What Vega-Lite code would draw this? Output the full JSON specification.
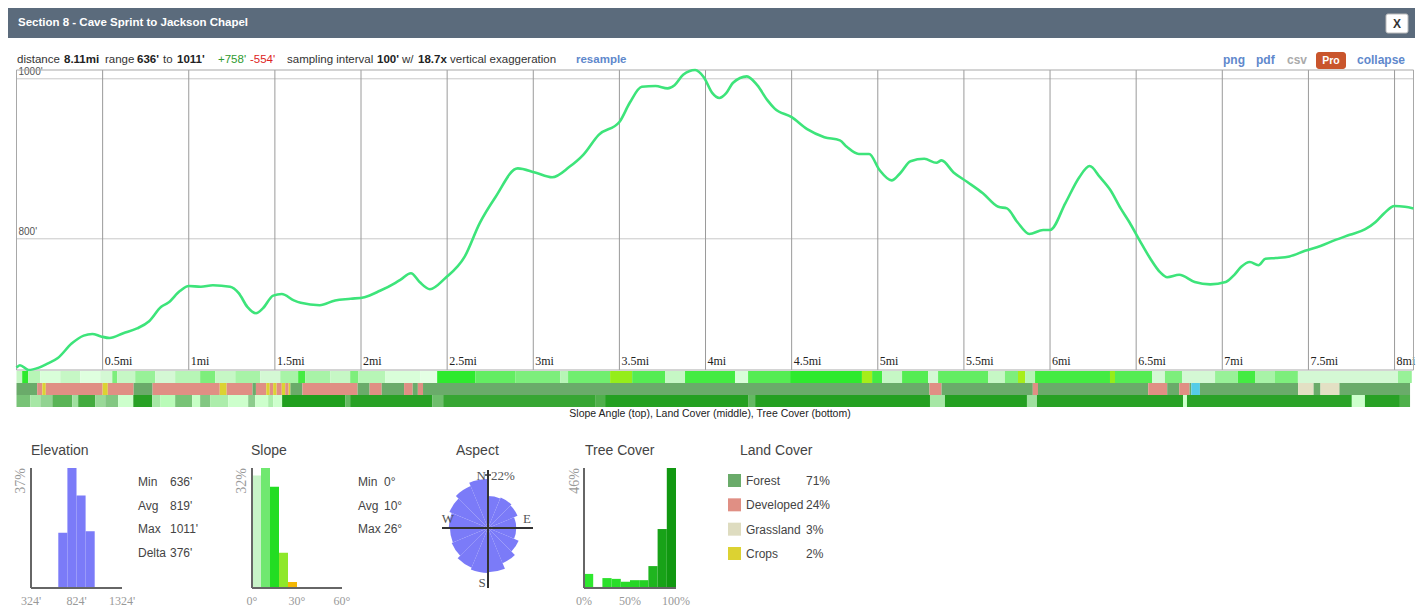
{
"$schema": "https://vega.github.io/schema/vega-lite/v6.json",
"width": 1423, "height": 609, "autosize": {"type": "none"}, "padding": 0, "background": "#ffffff",
"config": {"view": {"stroke": null}},
"resolve": {"scale": {"x": "independent", "y": "independent", "color": "independent", "radius": "independent", "theta": "independent"}},
"layer": [
{"data": {"values": [{}]}, "mark": {"type": "rect", "color": "#5b6b7c"}, "encoding": {"x": {"value": 8}, "x2": {"value": 1415}, "y": {"value": 8}, "y2": {"value": 38}}},
{"data": {"values": [{"t": "Section 8 - Cave Sprint to Jackson Chapel"}]}, "mark": {"type": "text", "align": "left", "baseline": "middle", "font": "Liberation Sans, Arial, sans-serif", "fontSize": 11.5, "fontWeight": "bold", "color": "#ffffff"}, "encoding": {"x": {"value": 18}, "y": {"value": 23}, "text": {"field": "t"}}},
{"data": {"values": [{}]}, "mark": {"type": "rect", "fill": "#ffffff", "stroke": "#bbbbbb", "strokeWidth": 1, "cornerRadius": 2}, "encoding": {"x": {"value": 1386}, "x2": {"value": 1408}, "y": {"value": 14}, "y2": {"value": 33}}},
{"data": {"values": [{"t": "X"}]}, "mark": {"type": "text", "align": "center", "baseline": "middle", "font": "Liberation Sans, Arial, sans-serif", "fontSize": 12, "fontWeight": "bold", "color": "#333333"}, "encoding": {"x": {"value": 1397}, "y": {"value": 24}, "text": {"field": "t"}}},

{"data": {"values": [{"t": "distance"}]}, "mark": {"type": "text", "align": "left", "baseline": "middle", "font": "Liberation Sans, Arial, sans-serif", "fontSize": 11.5, "color": "#333333"}, "encoding": {"x": {"value": 17}, "y": {"value": 60}, "text": {"field": "t"}}},
{"data": {"values": [{"t": "8.11mi"}]}, "mark": {"type": "text", "align": "left", "baseline": "middle", "font": "Liberation Sans, Arial, sans-serif", "fontSize": 11.5, "fontWeight": "bold", "color": "#222222"}, "encoding": {"x": {"value": 64}, "y": {"value": 60}, "text": {"field": "t"}}},
{"data": {"values": [{"t": "range"}]}, "mark": {"type": "text", "align": "left", "baseline": "middle", "font": "Liberation Sans, Arial, sans-serif", "fontSize": 11.5, "color": "#333333"}, "encoding": {"x": {"value": 105}, "y": {"value": 60}, "text": {"field": "t"}}},
{"data": {"values": [{"t": "636'"}]}, "mark": {"type": "text", "align": "left", "baseline": "middle", "font": "Liberation Sans, Arial, sans-serif", "fontSize": 11.5, "fontWeight": "bold", "color": "#222222"}, "encoding": {"x": {"value": 137}, "y": {"value": 60}, "text": {"field": "t"}}},
{"data": {"values": [{"t": "to"}]}, "mark": {"type": "text", "align": "left", "baseline": "middle", "font": "Liberation Sans, Arial, sans-serif", "fontSize": 11.5, "color": "#333333"}, "encoding": {"x": {"value": 163}, "y": {"value": 60}, "text": {"field": "t"}}},
{"data": {"values": [{"t": "1011'"}]}, "mark": {"type": "text", "align": "left", "baseline": "middle", "font": "Liberation Sans, Arial, sans-serif", "fontSize": 11.5, "fontWeight": "bold", "color": "#222222"}, "encoding": {"x": {"value": 177}, "y": {"value": 60}, "text": {"field": "t"}}},
{"data": {"values": [{"t": "+758'"}]}, "mark": {"type": "text", "align": "left", "baseline": "middle", "font": "Liberation Sans, Arial, sans-serif", "fontSize": 11.5, "color": "#2f9a2f"}, "encoding": {"x": {"value": 218}, "y": {"value": 60}, "text": {"field": "t"}}},
{"data": {"values": [{"t": "-554'"}]}, "mark": {"type": "text", "align": "left", "baseline": "middle", "font": "Liberation Sans, Arial, sans-serif", "fontSize": 11.5, "color": "#dd2222"}, "encoding": {"x": {"value": 250}, "y": {"value": 60}, "text": {"field": "t"}}},
{"data": {"values": [{"t": "sampling interval"}]}, "mark": {"type": "text", "align": "left", "baseline": "middle", "font": "Liberation Sans, Arial, sans-serif", "fontSize": 11.5, "color": "#333333"}, "encoding": {"x": {"value": 287}, "y": {"value": 60}, "text": {"field": "t"}}},
{"data": {"values": [{"t": "100'"}]}, "mark": {"type": "text", "align": "left", "baseline": "middle", "font": "Liberation Sans, Arial, sans-serif", "fontSize": 11.5, "fontWeight": "bold", "color": "#222222"}, "encoding": {"x": {"value": 377}, "y": {"value": 60}, "text": {"field": "t"}}},
{"data": {"values": [{"t": "w/"}]}, "mark": {"type": "text", "align": "left", "baseline": "middle", "font": "Liberation Sans, Arial, sans-serif", "fontSize": 11.5, "color": "#333333"}, "encoding": {"x": {"value": 402}, "y": {"value": 60}, "text": {"field": "t"}}},
{"data": {"values": [{"t": "18.7x"}]}, "mark": {"type": "text", "align": "left", "baseline": "middle", "font": "Liberation Sans, Arial, sans-serif", "fontSize": 11.5, "fontWeight": "bold", "color": "#222222"}, "encoding": {"x": {"value": 418}, "y": {"value": 60}, "text": {"field": "t"}}},
{"data": {"values": [{"t": "vertical exaggeration"}]}, "mark": {"type": "text", "align": "left", "baseline": "middle", "font": "Liberation Sans, Arial, sans-serif", "fontSize": 11.5, "color": "#333333"}, "encoding": {"x": {"value": 450}, "y": {"value": 60}, "text": {"field": "t"}}},
{"data": {"values": [{"t": "resample"}]}, "mark": {"type": "text", "align": "left", "baseline": "middle", "font": "Liberation Sans, Arial, sans-serif", "fontSize": 11.5, "fontWeight": "bold", "color": "#6088cc"}, "encoding": {"x": {"value": 576}, "y": {"value": 60}, "text": {"field": "t"}}},
{"data": {"values": [{"t": "png"}]}, "mark": {"type": "text", "align": "left", "baseline": "middle", "font": "Liberation Sans, Arial, sans-serif", "fontSize": 12, "fontWeight": "bold", "color": "#6088cc"}, "encoding": {"x": {"value": 1223}, "y": {"value": 60}, "text": {"field": "t"}}},
{"data": {"values": [{"t": "pdf"}]}, "mark": {"type": "text", "align": "left", "baseline": "middle", "font": "Liberation Sans, Arial, sans-serif", "fontSize": 12, "fontWeight": "bold", "color": "#6088cc"}, "encoding": {"x": {"value": 1256}, "y": {"value": 60}, "text": {"field": "t"}}},
{"data": {"values": [{"t": "csv"}]}, "mark": {"type": "text", "align": "left", "baseline": "middle", "font": "Liberation Sans, Arial, sans-serif", "fontSize": 12, "fontWeight": "bold", "color": "#aaaaaa"}, "encoding": {"x": {"value": 1287}, "y": {"value": 60}, "text": {"field": "t"}}},
{"data": {"values": [{}]}, "mark": {"type": "rect", "color": "#c9552c", "cornerRadius": 3}, "encoding": {"x": {"value": 1316}, "x2": {"value": 1346}, "y": {"value": 52}, "y2": {"value": 69}}},
{"data": {"values": [{"t": "Pro"}]}, "mark": {"type": "text", "align": "center", "baseline": "middle", "font": "Liberation Sans, Arial, sans-serif", "fontSize": 10.5, "fontWeight": "bold", "color": "#ffffff"}, "encoding": {"x": {"value": 1331}, "y": {"value": 60.5}, "text": {"field": "t"}}},
{"data": {"values": [{"t": "collapse"}]}, "mark": {"type": "text", "align": "left", "baseline": "middle", "font": "Liberation Sans, Arial, sans-serif", "fontSize": 12, "fontWeight": "bold", "color": "#6088cc"}, "encoding": {"x": {"value": 1357}, "y": {"value": 60}, "text": {"field": "t"}}},

{"data": {"values": [{"ft": 800, "l": "800'"}, {"ft": 1000, "l": "1000'"}]}, "mark": {"type": "rule", "color": "#c8c8c8", "strokeWidth": 1},
 "encoding": {"x": {"datum": 0, "type": "quantitative", "scale": {"domain": [0, 8.11], "range": [16.5, 1413.5], "nice": false, "zero": false}, "axis": null}, "x2": {"datum": 8.11},
  "y": {"field": "ft", "type": "quantitative", "scale": {"domain": [636, 1011], "range": [370, 70], "nice": false, "zero": false}, "axis": null}}},
{"data": {"values": [{"ft": 800, "l": "800'"}, {"ft": 1000, "l": "1000'"}]}, "mark": {"type": "text", "align": "left", "baseline": "bottom", "dx": 2, "dy": -2, "font": "Liberation Sans, Arial, sans-serif", "fontSize": 10, "color": "#555555"},
 "encoding": {"x": {"datum": 0, "type": "quantitative", "scale": {"domain": [0, 8.11], "range": [16.5, 1413.5], "nice": false, "zero": false}, "axis": null},
  "y": {"field": "ft", "type": "quantitative", "scale": {"domain": [636, 1011], "range": [370, 70], "nice": false, "zero": false}, "axis": null}, "text": {"field": "l"}}},
{"data": {"values": [{"mi": 0.5, "l": "0.5mi"}, {"mi": 1, "l": "1mi"}, {"mi": 1.5, "l": "1.5mi"}, {"mi": 2, "l": "2mi"}, {"mi": 2.5, "l": "2.5mi"}, {"mi": 3, "l": "3mi"}, {"mi": 3.5, "l": "3.5mi"}, {"mi": 4, "l": "4mi"}, {"mi": 4.5, "l": "4.5mi"}, {"mi": 5, "l": "5mi"}, {"mi": 5.5, "l": "5.5mi"}, {"mi": 6, "l": "6mi"}, {"mi": 6.5, "l": "6.5mi"}, {"mi": 7, "l": "7mi"}, {"mi": 7.5, "l": "7.5mi"}, {"mi": 8, "l": "8mi"}]},
 "mark": {"type": "rule", "color": "#9a9a9a", "strokeWidth": 1},
 "encoding": {"x": {"field": "mi", "type": "quantitative", "scale": {"domain": [0, 8.11], "range": [16.5, 1413.5], "nice": false, "zero": false}, "axis": null},
  "y": {"datum": 636, "type": "quantitative", "scale": {"domain": [636, 1011], "range": [370, 70], "nice": false, "zero": false}, "axis": null}, "y2": {"datum": 1011}}},
{"data": {"values": [{"mi": 0.5, "l": "0.5mi"}, {"mi": 1, "l": "1mi"}, {"mi": 1.5, "l": "1.5mi"}, {"mi": 2, "l": "2mi"}, {"mi": 2.5, "l": "2.5mi"}, {"mi": 3, "l": "3mi"}, {"mi": 3.5, "l": "3.5mi"}, {"mi": 4, "l": "4mi"}, {"mi": 4.5, "l": "4.5mi"}, {"mi": 5, "l": "5mi"}, {"mi": 5.5, "l": "5.5mi"}, {"mi": 6, "l": "6mi"}, {"mi": 6.5, "l": "6.5mi"}, {"mi": 7, "l": "7mi"}, {"mi": 7.5, "l": "7.5mi"}, {"mi": 8, "l": "8mi"}]},
 "mark": {"type": "text", "align": "left", "baseline": "middle", "dx": 2, "font": "Liberation Serif, Times New Roman, serif", "fontSize": 12, "color": "#222222"},
 "encoding": {"x": {"field": "mi", "type": "quantitative", "scale": {"domain": [0, 8.11], "range": [16.5, 1413.5], "nice": false, "zero": false}, "axis": null}, "y": {"value": 361}, "text": {"field": "l"}}},
{"data": {"values": [{}]}, "mark": {"type": "rect", "filled": false, "stroke": "#a8a8a8", "strokeWidth": 1},
 "encoding": {"x": {"datum": 0, "type": "quantitative", "scale": {"domain": [0, 8.11], "range": [16.5, 1413.5], "nice": false, "zero": false}, "axis": null}, "x2": {"datum": 8.11},
  "y": {"datum": 636, "type": "quantitative", "scale": {"domain": [636, 1011], "range": [370, 70], "nice": false, "zero": false}, "axis": null}, "y2": {"datum": 1011}}},
{"data": {"values": [{"mi":0,"ft":639},{"mi":0.02,"ft":642},{"mi":0.07,"ft":636},{"mi":0.13,"ft":639},{"mi":0.18,"ft":644},{"mi":0.24,"ft":651},{"mi":0.32,"ft":669},{"mi":0.39,"ft":679},{"mi":0.44,"ft":681},{"mi":0.49,"ft":678},{"mi":0.54,"ft":676},{"mi":0.62,"ft":682},{"mi":0.70,"ft":688},{"mi":0.77,"ft":697},{"mi":0.84,"ft":715},{"mi":0.88,"ft":720},{"mi":0.95,"ft":735},{"mi":1.00,"ft":741},{"mi":1.07,"ft":740},{"mi":1.14,"ft":742},{"mi":1.24,"ft":740},{"mi":1.29,"ft":732},{"mi":1.34,"ft":715},{"mi":1.39,"ft":707},{"mi":1.43,"ft":713},{"mi":1.49,"ft":729},{"mi":1.54,"ft":731},{"mi":1.61,"ft":723},{"mi":1.65,"ft":720},{"mi":1.76,"ft":717},{"mi":1.85,"ft":723},{"mi":1.94,"ft":725},{"mi":2.02,"ft":727},{"mi":2.11,"ft":735},{"mi":2.20,"ft":745},{"mi":2.23,"ft":749},{"mi":2.29,"ft":757},{"mi":2.34,"ft":746},{"mi":2.40,"ft":737},{"mi":2.49,"ft":751},{"mi":2.60,"ft":777},{"mi":2.69,"ft":820},{"mi":2.78,"ft":852},{"mi":2.91,"ft":888},{"mi":3.01,"ft":883},{"mi":3.11,"ft":877},{"mi":3.21,"ft":890},{"mi":3.29,"ft":905},{"mi":3.38,"ft":930},{"mi":3.50,"ft":946},{"mi":3.56,"ft":970},{"mi":3.63,"ft":990},{"mi":3.71,"ft":991},{"mi":3.78,"ft":988},{"mi":3.82,"ft":992},{"mi":3.87,"ft":1005},{"mi":3.94,"ft":1011},{"mi":3.99,"ft":1002},{"mi":4.04,"ft":982},{"mi":4.08,"ft":976},{"mi":4.12,"ft":982},{"mi":4.16,"ft":995},{"mi":4.24,"ft":1003},{"mi":4.30,"ft":992},{"mi":4.36,"ft":973},{"mi":4.40,"ft":963},{"mi":4.50,"ft":952},{"mi":4.59,"ft":937},{"mi":4.69,"ft":927},{"mi":4.78,"ft":923},{"mi":4.82,"ft":915},{"mi":4.89,"ft":906},{"mi":4.95,"ft":906},{"mi":5.01,"ft":886},{"mi":5.08,"ft":873},{"mi":5.13,"ft":882},{"mi":5.19,"ft":897},{"mi":5.27,"ft":900},{"mi":5.34,"ft":895},{"mi":5.37,"ft":898},{"mi":5.44,"ft":883},{"mi":5.52,"ft":871},{"mi":5.61,"ft":857},{"mi":5.70,"ft":840},{"mi":5.75,"ft":838},{"mi":5.81,"ft":821},{"mi":5.88,"ft":806},{"mi":5.96,"ft":811},{"mi":6.00,"ft":811},{"mi":6.09,"ft":845},{"mi":6.17,"ft":877},{"mi":6.23,"ft":891},{"mi":6.29,"ft":877},{"mi":6.35,"ft":861},{"mi":6.41,"ft":838},{"mi":6.46,"ft":821},{"mi":6.52,"ft":798},{"mi":6.58,"ft":776},{"mi":6.64,"ft":758},{"mi":6.68,"ft":752},{"mi":6.75,"ft":755},{"mi":6.84,"ft":746},{"mi":6.93,"ft":743},{"mi":7.02,"ft":746},{"mi":7.07,"ft":755},{"mi":7.11,"ft":765},{"mi":7.16,"ft":771},{"mi":7.21,"ft":767},{"mi":7.25,"ft":775},{"mi":7.31,"ft":776},{"mi":7.39,"ft":778},{"mi":7.48,"ft":785},{"mi":7.57,"ft":791},{"mi":7.65,"ft":798},{"mi":7.74,"ft":805},{"mi":7.83,"ft":812},{"mi":7.89,"ft":821},{"mi":7.94,"ft":832},{"mi":8.00,"ft":841},{"mi":8.06,"ft":840},{"mi":8.11,"ft":838}]},
 "mark": {"type": "line", "color": "#3de47a", "strokeWidth": 2.6, "interpolate": "monotone"},
 "encoding": {"x": {"field": "mi", "type": "quantitative", "scale": {"domain": [0, 8.11], "range": [16.5, 1413.5], "nice": false, "zero": false}, "axis": null},
  "y": {"field": "ft", "type": "quantitative", "scale": {"domain": [636, 1011], "range": [370, 70], "nice": false, "zero": false}, "axis": null}}},

{"data": {"values": [{"a":0,"b":0.033,"v":4},{"a":0.033,"b":0.068,"v":14},{"a":0.068,"b":0.138,"v":5},{"a":0.138,"b":0.254,"v":2},{"a":0.254,"b":0.37,"v":4},{"a":0.37,"b":0.486,"v":1},{"a":0.486,"b":0.556,"v":3},{"a":0.556,"b":0.585,"v":9},{"a":0.585,"b":0.689,"v":4},{"a":0.689,"b":0.805,"v":7},{"a":0.805,"b":0.921,"v":3},{"a":0.921,"b":1.066,"v":5},{"a":1.066,"b":1.154,"v":9},{"a":1.154,"b":1.27,"v":4},{"a":1.27,"b":1.415,"v":6},{"a":1.415,"b":1.531,"v":3},{"a":1.531,"b":1.635,"v":6},{"a":1.635,"b":1.676,"v":13},{"a":1.676,"b":1.821,"v":6},{"a":1.821,"b":1.937,"v":4},{"a":1.937,"b":1.983,"v":9},{"a":1.983,"b":2.14,"v":5},{"a":2.14,"b":2.343,"v":2},{"a":2.343,"b":2.442,"v":0},{"a":2.442,"b":2.663,"v":14},{"a":2.663,"b":2.895,"v":11},{"a":2.895,"b":3.156,"v":9},{"a":3.156,"b":3.202,"v":5},{"a":3.202,"b":3.446,"v":10},{"a":3.446,"b":3.574,"v":18},{"a":3.574,"b":3.765,"v":12},{"a":3.765,"b":3.881,"v":4},{"a":3.881,"b":4.171,"v":13},{"a":4.171,"b":4.247,"v":2},{"a":4.247,"b":4.491,"v":12},{"a":4.491,"b":4.908,"v":14},{"a":4.908,"b":4.967,"v":19},{"a":4.967,"b":5.025,"v":13},{"a":5.025,"b":5.141,"v":4},{"a":5.141,"b":5.292,"v":12},{"a":5.292,"b":5.35,"v":3},{"a":5.35,"b":5.64,"v":11},{"a":5.64,"b":5.738,"v":4},{"a":5.738,"b":5.814,"v":9},{"a":5.814,"b":5.855,"v":19},{"a":5.855,"b":5.913,"v":5},{"a":5.913,"b":6.348,"v":13},{"a":6.348,"b":6.377,"v":18},{"a":6.377,"b":6.592,"v":12},{"a":6.592,"b":6.667,"v":3},{"a":6.667,"b":6.766,"v":9},{"a":6.766,"b":6.958,"v":3},{"a":6.958,"b":7.091,"v":7},{"a":7.091,"b":7.19,"v":13},{"a":7.19,"b":7.306,"v":6},{"a":7.306,"b":7.439,"v":9},{"a":7.439,"b":8.02,"v":3},{"a":8.02,"b":8.1,"v":7}]},
 "mark": {"type": "rect"},
 "encoding": {"x": {"field": "a", "type": "quantitative", "scale": {"domain": [0, 8.11], "range": [16.5, 1413.5], "nice": false, "zero": false}, "axis": null}, "x2": {"field": "b"},
  "y": {"datum": 0, "type": "quantitative", "scale": {"domain": [0, 3], "range": [371, 407], "nice": false, "zero": false}, "axis": null}, "y2": {"datum": 1},
  "color": {"field": "v", "type": "quantitative", "scale": {"type": "linear", "domain": [0, 3, 8, 14, 19, 26], "range": ["#ffffff", "#d4f8d4", "#88ef88", "#2eea2e", "#a6ee1a", "#f0b400"]}, "legend": null}}},
{"data": {"values": [{"a":0,"b":0.12,"c":"Forest"},{"a":0.12,"b":0.15,"c":"Developed"},{"a":0.15,"b":0.17,"c":"Crops"},{"a":0.17,"b":0.50,"c":"Developed"},{"a":0.50,"b":0.53,"c":"Crops"},{"a":0.53,"b":0.68,"c":"Developed"},{"a":0.68,"b":0.79,"c":"Forest"},{"a":0.79,"b":1.18,"c":"Developed"},{"a":1.18,"b":1.22,"c":"Crops"},{"a":1.22,"b":1.37,"c":"Developed"},{"a":1.37,"b":1.39,"c":"Forest"},{"a":1.39,"b":1.45,"c":"Developed"},{"a":1.45,"b":1.47,"c":"Crops"},{"a":1.47,"b":1.49,"c":"Developed"},{"a":1.49,"b":1.51,"c":"Crops"},{"a":1.51,"b":1.54,"c":"Developed"},{"a":1.54,"b":1.56,"c":"Crops"},{"a":1.56,"b":1.58,"c":"Developed"},{"a":1.58,"b":1.59,"c":"Crops"},{"a":1.59,"b":1.66,"c":"Forest"},{"a":1.66,"b":1.98,"c":"Developed"},{"a":1.98,"b":2.05,"c":"Forest"},{"a":2.05,"b":2.12,"c":"Developed"},{"a":2.12,"b":2.25,"c":"Forest"},{"a":2.25,"b":2.30,"c":"Developed"},{"a":2.30,"b":2.33,"c":"Forest"},{"a":2.33,"b":2.36,"c":"Developed"},{"a":2.36,"b":5.30,"c":"Forest"},{"a":5.30,"b":5.37,"c":"Developed"},{"a":5.37,"b":5.90,"c":"Forest"},{"a":5.90,"b":5.93,"c":"Developed"},{"a":5.93,"b":6.57,"c":"Forest"},{"a":6.57,"b":6.68,"c":"Developed"},{"a":6.68,"b":6.75,"c":"Forest"},{"a":6.75,"b":6.81,"c":"Developed"},{"a":6.81,"b":6.82,"c":"Forest"},{"a":6.82,"b":6.87,"c":"Water"},{"a":6.87,"b":7.44,"c":"Forest"},{"a":7.44,"b":7.53,"c":"Grassland"},{"a":7.53,"b":7.57,"c":"Forest"},{"a":7.57,"b":7.68,"c":"Grassland"},{"a":7.68,"b":8.09,"c":"Forest"}]},
 "mark": {"type": "rect"},
 "encoding": {"x": {"field": "a", "type": "quantitative", "scale": {"domain": [0, 8.11], "range": [16.5, 1413.5], "nice": false, "zero": false}, "axis": null}, "x2": {"field": "b"},
  "y": {"datum": 1, "type": "quantitative", "scale": {"domain": [0, 3], "range": [371, 407], "nice": false, "zero": false}, "axis": null}, "y2": {"datum": 2},
  "color": {"field": "c", "type": "nominal", "scale": {"domain": ["Forest", "Developed", "Grassland", "Crops", "Water"], "range": ["#6aab6a", "#e08f84", "#e3e0c4", "#dcd232", "#55cce8"]}, "legend": null}}},
{"data": {"values": [{"a":0,"b":0.08,"v":60},{"a":0.08,"b":0.138,"v":30},{"a":0.138,"b":0.208,"v":45},{"a":0.208,"b":0.324,"v":75},{"a":0.324,"b":0.358,"v":35},{"a":0.358,"b":0.457,"v":85},{"a":0.457,"b":0.515,"v":40},{"a":0.515,"b":0.59,"v":55},{"a":0.59,"b":0.678,"v":0},{"a":0.678,"b":0.788,"v":95},{"a":0.788,"b":0.834,"v":30},{"a":0.834,"b":0.921,"v":15},{"a":0.921,"b":1.02,"v":60},{"a":1.02,"b":1.066,"v":5},{"a":1.066,"b":1.124,"v":55},{"a":1.124,"b":1.229,"v":25},{"a":1.229,"b":1.345,"v":0},{"a":1.345,"b":1.386,"v":50},{"a":1.386,"b":1.461,"v":0},{"a":1.461,"b":1.49,"v":25},{"a":1.49,"b":1.542,"v":0},{"a":1.542,"b":1.908,"v":97},{"a":1.908,"b":1.937,"v":70},{"a":1.937,"b":2.413,"v":95},{"a":2.413,"b":2.477,"v":65},{"a":2.477,"b":3.359,"v":90},{"a":3.359,"b":3.417,"v":80},{"a":3.417,"b":4.247,"v":96},{"a":4.247,"b":4.288,"v":70},{"a":4.288,"b":5.303,"v":96},{"a":5.303,"b":5.39,"v":30},{"a":5.39,"b":5.866,"v":96},{"a":5.866,"b":5.924,"v":35},{"a":5.924,"b":6.772,"v":95},{"a":6.772,"b":6.795,"v":0},{"a":6.795,"b":7.752,"v":94},{"a":7.752,"b":7.828,"v":0},{"a":7.828,"b":8.031,"v":95},{"a":8.031,"b":8.09,"v":80}]},
 "mark": {"type": "rect"},
 "encoding": {"x": {"field": "a", "type": "quantitative", "scale": {"domain": [0, 8.11], "range": [16.5, 1413.5], "nice": false, "zero": false}, "axis": null}, "x2": {"field": "b"},
  "y": {"datum": 2, "type": "quantitative", "scale": {"domain": [0, 3], "range": [371, 407], "nice": false, "zero": false}, "axis": null}, "y2": {"datum": 3},
  "color": {"field": "v", "type": "quantitative", "scale": {"type": "linear", "domain": [0, 50, 100], "range": ["#ffffff", "#8ccc8c", "#129c12"]}, "legend": null}}},
{"data": {"values": [{"t": "Slope Angle (top), Land Cover (middle), Tree Cover (bottom)"}]}, "mark": {"type": "text", "align": "center", "baseline": "middle", "font": "Liberation Sans, Arial, sans-serif", "fontSize": 10.5, "color": "#222222"}, "encoding": {"x": {"value": 710}, "y": {"value": 414}, "text": {"field": "t"}}},

{"data": {"values": [{"t": "Elevation"}]}, "mark": {"type": "text", "align": "left", "baseline": "middle", "font": "Liberation Sans, Arial, sans-serif", "fontSize": 14, "color": "#444444"}, "encoding": {"x": {"value": 31}, "y": {"value": 451}, "text": {"field": "t"}}},
{"data": {"values": [{"lo":624,"hi":724,"p":17},{"lo":724,"hi":824,"p":37},{"lo":824,"hi":924,"p":28.5},{"lo":924,"hi":1024,"p":17.5}]}, "mark": {"type": "rect", "color": "#7b7bf8"},
 "encoding": {"x": {"field": "lo", "type": "quantitative", "scale": {"domain": [324, 1324], "range": [31, 122], "nice": false, "zero": false}, "axis": null}, "x2": {"field": "hi"},
  "y": {"field": "p", "type": "quantitative", "scale": {"domain": [0, 37], "range": [588, 468], "nice": false}, "axis": null}, "y2": {"datum": 0}}},
{"data": {"values": [{}]}, "mark": {"type": "rule", "color": "#666666", "strokeWidth": 2},
 "encoding": {"x": {"datum": 324, "type": "quantitative", "scale": {"domain": [324, 1324], "range": [31, 122], "nice": false, "zero": false}, "axis": null},
  "y": {"datum": 0, "type": "quantitative", "scale": {"domain": [0, 37], "range": [588, 468], "nice": false}, "axis": null}, "y2": {"datum": 37}}},
{"data": {"values": [{}]}, "mark": {"type": "rule", "color": "#666666", "strokeWidth": 2},
 "encoding": {"x": {"datum": 324, "type": "quantitative", "scale": {"domain": [324, 1324], "range": [31, 122], "nice": false, "zero": false}, "axis": null}, "x2": {"datum": 1324},
  "y": {"datum": 0, "type": "quantitative", "scale": {"domain": [0, 37], "range": [588, 468], "nice": false}, "axis": null}}},
{"data": {"values": [{"v": 324, "l": "324'"}, {"v": 824, "l": "824'"}, {"v": 1324, "l": "1324'"}]}, "mark": {"type": "text", "align": "center", "baseline": "middle", "font": "Liberation Serif, Times New Roman, serif", "fontSize": 12, "color": "#999999"},
 "encoding": {"x": {"field": "v", "type": "quantitative", "scale": {"domain": [324, 1324], "range": [31, 122], "nice": false, "zero": false}, "axis": null}, "y": {"value": 601}, "text": {"field": "l"}}},
{"data": {"values": [{"l": "37%"}]}, "mark": {"type": "text", "angle": 270, "align": "right", "baseline": "middle", "dy": -10, "font": "Liberation Serif, Times New Roman, serif", "fontSize": 14, "color": "#999999"},
 "encoding": {"x": {"datum": 324, "type": "quantitative", "scale": {"domain": [324, 1324], "range": [31, 122], "nice": false, "zero": false}, "axis": null},
  "y": {"datum": 37, "type": "quantitative", "scale": {"domain": [0, 37], "range": [588, 468], "nice": false}, "axis": null}, "text": {"field": "l"}}},
{"data": {"values": [{"k": "Min", "v": "636'"}, {"k": "Avg", "v": "819'"}, {"k": "Max", "v": "1011'"}, {"k": "Delta", "v": "376'"}]}, "mark": {"type": "text", "align": "left", "baseline": "middle", "font": "Liberation Sans, Arial, sans-serif", "fontSize": 12, "color": "#444444"},
 "encoding": {"x": {"value": 138}, "y": {"field": "k", "type": "nominal", "scale": {"type": "point", "domain": ["Min", "Avg", "Max", "Delta"], "range": [482, 553], "padding": 0}, "axis": null}, "text": {"field": "k"}}},
{"data": {"values": [{"k": "Min", "v": "636'"}, {"k": "Avg", "v": "819'"}, {"k": "Max", "v": "1011'"}, {"k": "Delta", "v": "376'"}]}, "mark": {"type": "text", "align": "left", "baseline": "middle", "font": "Liberation Sans, Arial, sans-serif", "fontSize": 12, "color": "#444444"},
 "encoding": {"x": {"value": 170}, "y": {"field": "k", "type": "nominal", "scale": {"type": "point", "domain": ["Min", "Avg", "Max", "Delta"], "range": [482, 553], "padding": 0}, "axis": null}, "text": {"field": "v"}}},

{"data": {"values": [{"t": "Slope"}]}, "mark": {"type": "text", "align": "left", "baseline": "middle", "font": "Liberation Sans, Arial, sans-serif", "fontSize": 14, "color": "#444444"}, "encoding": {"x": {"value": 251}, "y": {"value": 451}, "text": {"field": "t"}}},
{"data": {"values": [{"lo":0,"hi":6,"p":30},{"lo":6,"hi":12,"p":32},{"lo":12,"hi":18,"p":27},{"lo":18,"hi":24,"p":9.4},{"lo":24,"hi":30,"p":1.6}]}, "mark": {"type": "rect"},
 "encoding": {"x": {"field": "lo", "type": "quantitative", "scale": {"domain": [0, 60], "range": [252, 342], "nice": false, "zero": false}, "axis": null}, "x2": {"field": "hi"},
  "y": {"field": "p", "type": "quantitative", "scale": {"domain": [0, 32], "range": [588, 468], "nice": false}, "axis": null}, "y2": {"datum": 0},
  "color": {"field": "lo", "type": "ordinal", "scale": {"domain": [0, 6, 12, 18, 24], "range": ["#c8f3c8", "#70e870", "#22dd22", "#8ee82a", "#f2b705"]}, "legend": null}}},
{"data": {"values": [{}]}, "mark": {"type": "rule", "color": "#666666", "strokeWidth": 2},
 "encoding": {"x": {"datum": 0, "type": "quantitative", "scale": {"domain": [0, 60], "range": [252, 342], "nice": false, "zero": false}, "axis": null},
  "y": {"datum": 0, "type": "quantitative", "scale": {"domain": [0, 32], "range": [588, 468], "nice": false}, "axis": null}, "y2": {"datum": 32}}},
{"data": {"values": [{}]}, "mark": {"type": "rule", "color": "#666666", "strokeWidth": 2},
 "encoding": {"x": {"datum": 0, "type": "quantitative", "scale": {"domain": [0, 60], "range": [252, 342], "nice": false, "zero": false}, "axis": null}, "x2": {"datum": 60},
  "y": {"datum": 0, "type": "quantitative", "scale": {"domain": [0, 32], "range": [588, 468], "nice": false}, "axis": null}}},
{"data": {"values": [{"v": 0, "l": "0°"}, {"v": 30, "l": "30°"}, {"v": 60, "l": "60°"}]}, "mark": {"type": "text", "align": "center", "baseline": "middle", "font": "Liberation Serif, Times New Roman, serif", "fontSize": 12, "color": "#999999"},
 "encoding": {"x": {"field": "v", "type": "quantitative", "scale": {"domain": [0, 60], "range": [252, 342], "nice": false, "zero": false}, "axis": null}, "y": {"value": 601}, "text": {"field": "l"}}},
{"data": {"values": [{"l": "32%"}]}, "mark": {"type": "text", "angle": 270, "align": "right", "baseline": "middle", "dy": -10, "font": "Liberation Serif, Times New Roman, serif", "fontSize": 14, "color": "#999999"},
 "encoding": {"x": {"datum": 0, "type": "quantitative", "scale": {"domain": [0, 60], "range": [252, 342], "nice": false, "zero": false}, "axis": null},
  "y": {"datum": 32, "type": "quantitative", "scale": {"domain": [0, 32], "range": [588, 468], "nice": false}, "axis": null}, "text": {"field": "l"}}},
{"data": {"values": [{"k": "Min", "v": "0°"}, {"k": "Avg", "v": "10°"}, {"k": "Max", "v": "26°"}]}, "mark": {"type": "text", "align": "left", "baseline": "middle", "font": "Liberation Sans, Arial, sans-serif", "fontSize": 12, "color": "#444444"},
 "encoding": {"x": {"value": 358}, "y": {"field": "k", "type": "nominal", "scale": {"type": "point", "domain": ["Min", "Avg", "Max"], "range": [482, 529], "padding": 0}, "axis": null}, "text": {"field": "k"}}},
{"data": {"values": [{"k": "Min", "v": "0°"}, {"k": "Avg", "v": "10°"}, {"k": "Max", "v": "26°"}]}, "mark": {"type": "text", "align": "left", "baseline": "middle", "font": "Liberation Sans, Arial, sans-serif", "fontSize": 12, "color": "#444444"},
 "encoding": {"x": {"value": 384}, "y": {"field": "k", "type": "nominal", "scale": {"type": "point", "domain": ["Min", "Avg", "Max"], "range": [482, 529], "padding": 0}, "axis": null}, "text": {"field": "v"}}},

{"data": {"values": [{"t": "Aspect"}]}, "mark": {"type": "text", "align": "left", "baseline": "middle", "font": "Liberation Sans, Arial, sans-serif", "fontSize": 14, "color": "#444444"}, "encoding": {"x": {"value": 456}, "y": {"value": 451}, "text": {"field": "t"}}},
{"data": {"values": [{"a0":0,"a1":22.5,"p":13},{"a0":22.5,"a1":45,"p":13.5},{"a0":45,"a1":67.5,"p":13},{"a0":67.5,"a1":90,"p":11.5},{"a0":90,"a1":112.5,"p":11.5},{"a0":112.5,"a1":135,"p":13.5},{"a0":135,"a1":157.5,"p":15.5},{"a0":157.5,"a1":180,"p":18},{"a0":180,"a1":202.5,"p":18.3},{"a0":202.5,"a1":225,"p":17.5},{"a0":225,"a1":247.5,"p":16},{"a0":247.5,"a1":270,"p":15.5},{"a0":270,"a1":292.5,"p":16},{"a0":292.5,"a1":315,"p":17},{"a0":315,"a1":337.5,"p":18.5},{"a0":337.5,"a1":360,"p":20}]},
 "mark": {"type": "arc", "color": "#7b7bf8"},
 "encoding": {"x": {"value": 488}, "y": {"value": 528},
  "theta": {"field": "a0", "type": "quantitative", "stack": null, "scale": {"domain": [0, 360], "range": [0, 6.2831853]}}, "theta2": {"field": "a1"},
  "radius": {"field": "p", "type": "quantitative", "scale": {"type": "linear", "domain": [0, 22], "range": [0, 54], "zero": true}}}},
{"data": {"values": [{}]}, "mark": {"type": "rule", "color": "#333333", "strokeWidth": 2}, "encoding": {"x": {"value": 442}, "x2": {"value": 533}, "y": {"value": 528}}},
{"data": {"values": [{}]}, "mark": {"type": "rule", "color": "#333333", "strokeWidth": 2}, "encoding": {"x": {"value": 488}, "y": {"value": 470}, "y2": {"value": 588}}},
{"data": {"values": [{}]}, "mark": {"type": "rule", "color": "#333333", "strokeWidth": 1.5}, "encoding": {"x": {"value": 485}, "x2": {"value": 491}, "y": {"value": 475}}},
{"data": {"values": [{"t": "N"}]}, "mark": {"type": "text", "align": "right", "baseline": "middle", "font": "Liberation Serif, Times New Roman, serif", "fontSize": 13, "color": "#555555"}, "encoding": {"x": {"value": 486}, "y": {"value": 476}, "text": {"field": "t"}}},
{"data": {"values": [{"t": "22%"}]}, "mark": {"type": "text", "align": "left", "baseline": "middle", "font": "Liberation Serif, Times New Roman, serif", "fontSize": 13, "color": "#555555"}, "encoding": {"x": {"value": 491}, "y": {"value": 476}, "text": {"field": "t"}}},
{"data": {"values": [{"t": "W"}]}, "mark": {"type": "text", "align": "center", "baseline": "middle", "font": "Liberation Serif, Times New Roman, serif", "fontSize": 13, "color": "#555555"}, "encoding": {"x": {"value": 448}, "y": {"value": 519}, "text": {"field": "t"}}},
{"data": {"values": [{"t": "E"}]}, "mark": {"type": "text", "align": "center", "baseline": "middle", "font": "Liberation Serif, Times New Roman, serif", "fontSize": 13, "color": "#555555"}, "encoding": {"x": {"value": 527}, "y": {"value": 519}, "text": {"field": "t"}}},
{"data": {"values": [{"t": "S"}]}, "mark": {"type": "text", "align": "center", "baseline": "middle", "font": "Liberation Serif, Times New Roman, serif", "fontSize": 13, "color": "#555555"}, "encoding": {"x": {"value": 482}, "y": {"value": 583}, "text": {"field": "t"}}},

{"data": {"values": [{"t": "Tree Cover"}]}, "mark": {"type": "text", "align": "left", "baseline": "middle", "font": "Liberation Sans, Arial, sans-serif", "fontSize": 14, "color": "#444444"}, "encoding": {"x": {"value": 585}, "y": {"value": 451}, "text": {"field": "t"}}},
{"data": {"values": [{"lo":0,"hi":10,"p":5.4},{"lo":10,"hi":20,"p":0.4},{"lo":20,"hi":30,"p":3.8},{"lo":30,"hi":40,"p":3.5},{"lo":40,"hi":50,"p":2.4},{"lo":50,"hi":60,"p":3},{"lo":60,"hi":70,"p":3},{"lo":70,"hi":80,"p":8.4},{"lo":80,"hi":90,"p":22.6},{"lo":90,"hi":100,"p":46}]}, "mark": {"type": "rect"},
 "encoding": {"x": {"field": "lo", "type": "quantitative", "scale": {"domain": [0, 100], "range": [584, 676], "nice": false, "zero": false}, "axis": null}, "x2": {"field": "hi"},
  "y": {"field": "p", "type": "quantitative", "scale": {"domain": [0, 46], "range": [588, 468], "nice": false}, "axis": null}, "y2": {"datum": 0},
  "color": {"field": "lo", "type": "ordinal", "scale": {"domain": [0, 10, 20, 30, 40, 50, 60, 70, 80, 90], "range": ["#2ee82e", "#2ee42e", "#2ce02c", "#2ade2a", "#28da28", "#26d626", "#24d024", "#1fb51f", "#18a218", "#119811"]}, "legend": null}}},
{"data": {"values": [{}]}, "mark": {"type": "rule", "color": "#666666", "strokeWidth": 2},
 "encoding": {"x": {"datum": 0, "type": "quantitative", "scale": {"domain": [0, 100], "range": [584, 676], "nice": false, "zero": false}, "axis": null},
  "y": {"datum": 0, "type": "quantitative", "scale": {"domain": [0, 46], "range": [588, 468], "nice": false}, "axis": null}, "y2": {"datum": 46}}},
{"data": {"values": [{}]}, "mark": {"type": "rule", "color": "#666666", "strokeWidth": 2},
 "encoding": {"x": {"datum": 0, "type": "quantitative", "scale": {"domain": [0, 100], "range": [584, 676], "nice": false, "zero": false}, "axis": null}, "x2": {"datum": 100},
  "y": {"datum": 0, "type": "quantitative", "scale": {"domain": [0, 46], "range": [588, 468], "nice": false}, "axis": null}}},
{"data": {"values": [{"v": 0, "l": "0%"}, {"v": 50, "l": "50%"}, {"v": 100, "l": "100%"}]}, "mark": {"type": "text", "align": "center", "baseline": "middle", "font": "Liberation Serif, Times New Roman, serif", "fontSize": 12, "color": "#999999"},
 "encoding": {"x": {"field": "v", "type": "quantitative", "scale": {"domain": [0, 100], "range": [584, 676], "nice": false, "zero": false}, "axis": null}, "y": {"value": 601}, "text": {"field": "l"}}},
{"data": {"values": [{"l": "46%"}]}, "mark": {"type": "text", "angle": 270, "align": "right", "baseline": "middle", "dy": -9, "font": "Liberation Serif, Times New Roman, serif", "fontSize": 14, "color": "#999999"},
 "encoding": {"x": {"datum": 0, "type": "quantitative", "scale": {"domain": [0, 100], "range": [584, 676], "nice": false, "zero": false}, "axis": null},
  "y": {"datum": 46, "type": "quantitative", "scale": {"domain": [0, 46], "range": [588, 468], "nice": false}, "axis": null}, "text": {"field": "l"}}},

{"data": {"values": [{"t": "Land Cover"}]}, "mark": {"type": "text", "align": "left", "baseline": "middle", "font": "Liberation Sans, Arial, sans-serif", "fontSize": 14, "color": "#444444"}, "encoding": {"x": {"value": 740}, "y": {"value": 451}, "text": {"field": "t"}}},
{"data": {"values": [{"c": "Forest", "p": "71%"}, {"c": "Developed", "p": "24%"}, {"c": "Grassland", "p": "3%"}, {"c": "Crops", "p": "2%"}]}, "mark": {"type": "square", "size": 169, "opacity": 1},
 "encoding": {"x": {"value": 734.5}, "y": {"field": "c", "type": "nominal", "scale": {"type": "point", "domain": ["Forest", "Developed", "Grassland", "Crops"], "range": [480.5, 553.5], "padding": 0}, "axis": null},
  "color": {"field": "c", "type": "nominal", "scale": {"domain": ["Forest", "Developed", "Grassland", "Crops"], "range": ["#6aab6a", "#e08f84", "#dedcc0", "#dcd232"]}, "legend": null}}},
{"data": {"values": [{"c": "Forest", "p": "71%"}, {"c": "Developed", "p": "24%"}, {"c": "Grassland", "p": "3%"}, {"c": "Crops", "p": "2%"}]}, "mark": {"type": "text", "align": "left", "baseline": "middle", "font": "Liberation Sans, Arial, sans-serif", "fontSize": 12, "color": "#444444"},
 "encoding": {"x": {"value": 746}, "y": {"field": "c", "type": "nominal", "scale": {"type": "point", "domain": ["Forest", "Developed", "Grassland", "Crops"], "range": [481, 554], "padding": 0}, "axis": null}, "text": {"field": "c"}}},
{"data": {"values": [{"c": "Forest", "p": "71%"}, {"c": "Developed", "p": "24%"}, {"c": "Grassland", "p": "3%"}, {"c": "Crops", "p": "2%"}]}, "mark": {"type": "text", "align": "left", "baseline": "middle", "font": "Liberation Sans, Arial, sans-serif", "fontSize": 12, "color": "#444444"},
 "encoding": {"x": {"value": 806}, "y": {"field": "c", "type": "nominal", "scale": {"type": "point", "domain": ["Forest", "Developed", "Grassland", "Crops"], "range": [481, 554], "padding": 0}, "axis": null}, "text": {"field": "p"}}}
]
}
